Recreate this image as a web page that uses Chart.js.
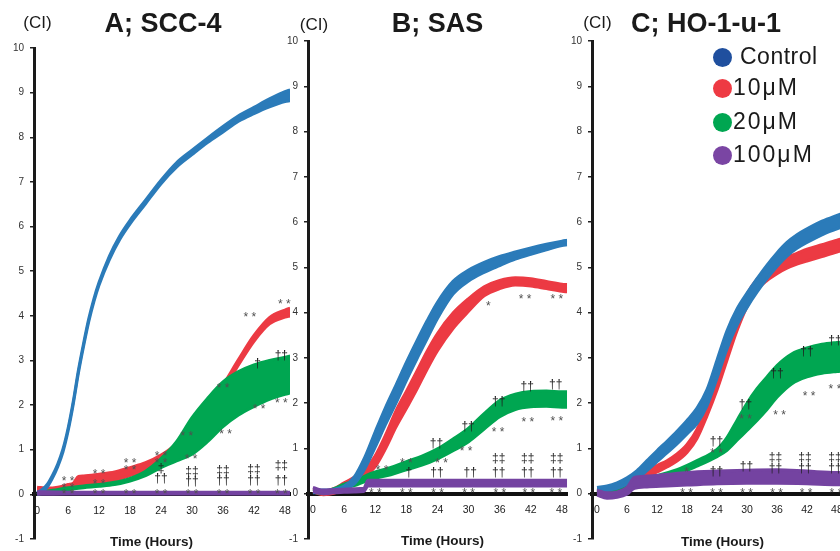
<!DOCTYPE html>
<html><head><meta charset="utf-8">
<script src="https://cdn.jsdelivr.net/npm/chart.js@4.4.1/dist/chart.umd.min.js"></script>
<style>
html,body{margin:0;padding:0;width:840px;height:551px;overflow:hidden;background:#fff;position:relative;}
canvas{position:absolute;top:0;}
.t{position:absolute;white-space:nowrap;line-height:1;font-family:"Liberation Sans",Arial,Helvetica,sans-serif;color:#1a1a1a;}
.dot{position:absolute;width:19px;height:19px;border-radius:50%;}
</style></head><body>
<canvas id="cA"></canvas><canvas id="cB"></canvas><canvas id="cC"></canvas>
<script>
// ---------- data (time in hours, cell index) ----------
const hourTicks = [0,6,12,18,24,30,36,42,48];
const ciTicks = [-1,0,1,2,3,4,5,6,7,8,9,10];
const panelTitles = ['A; SCC-4','B; SAS','C; HO-1-u-1'];
const legendLabels = ['Control','10\u03bcM','20\u03bcM','100\u03bcM'];

// each band: [hour, lower CI, upper CI]
const ctrlA = [[0,0.0,0.04],[1,0.05,0.11],[2,0.17,0.23],[3,0.37,0.43],[4,0.62,0.68],[5,0.95,1.01],[6,1.42,1.48],[7,2.02,2.08],[8,2.72,2.78],[9,3.32,3.38],[10,3.87,3.93],[11,4.32,4.38],[12,4.69,4.75],[14,5.26,5.34],[16,5.71,5.79],[18,6.06,6.14],[21,6.51,6.59],[24,6.96,7.04],[27,7.33,7.43],[30,7.61,7.71],[33,7.88,7.98],[36,8.12,8.24],[39,8.36,8.48],[42,8.53,8.67],[45,8.68,8.86],[48,8.8,9.02],[49,8.82,9.06]];
const c10A = [[0,0.05,0.16],[2,0.04,0.14],[4,0.06,0.16],[6,0.1,0.22],[7,0.13,0.25],[8,0.22,0.4],[9,0.22,0.41],[12,0.24,0.45],[15,0.31,0.5],[18,0.42,0.6],[21,0.53,0.71],[24,0.72,0.88],[27,1.0,1.14],[30,1.42,1.55],[33,1.83,1.95],[36,2.33,2.45],[39,2.9,3.02],[42,3.43,3.56],[45,3.82,3.96],[48,3.97,4.13],[49,4.0,4.17]];
const c20A = [[0,0.0,0.04],[3,0.05,0.09],[6,0.11,0.15],[9,0.15,0.19],[12,0.18,0.22],[15,0.22,0.27],[18,0.3,0.36],[21,0.42,0.52],[24,0.6,0.8],[27,0.75,1.18],[30,0.9,1.72],[33,1.18,2.15],[36,1.52,2.52],[39,1.78,2.75],[42,1.97,2.9],[45,2.13,3.0],[48,2.24,3.07],[49,2.27,3.1]];
const c100A = [[0,0.0,0.06],[6,0.01,0.05],[12,0.01,0.05],[24,0.01,0.05],[36,0.01,0.05],[49,0.01,0.05]];

const ctrlB = [[0,0.02,0.08],[2,0.02,0.08],[4,0.04,0.1],[6,0.09,0.17],[8,0.22,0.38],[10,0.55,0.81],[12,1.03,1.37],[14,1.53,1.91],[16,2.0,2.4],[18,2.5,2.9],[20,2.97,3.37],[22,3.42,3.82],[24,3.87,4.23],[27,4.41,4.69],[30,4.7,4.94],[33,4.89,5.11],[36,5.04,5.24],[39,5.18,5.34],[42,5.29,5.43],[45,5.39,5.51],[48,5.48,5.58],[49,5.5,5.6]];
const c10B = [[0,0.04,0.12],[2,-0.02,0.06],[4,0.01,0.11],[6,0.12,0.24],[8,0.23,0.37],[10,0.37,0.53],[12,0.6,0.84],[14,1.0,1.3],[16,1.47,1.83],[18,1.88,2.26],[20,2.3,2.7],[22,2.75,3.15],[24,3.16,3.54],[27,3.65,3.99],[30,4.03,4.31],[33,4.37,4.57],[36,4.53,4.71],[39,4.61,4.77],[42,4.59,4.75],[45,4.53,4.69],[48,4.47,4.63],[49,4.46,4.62]];
const c20B = [[0,0.04,0.1],[2,0.0,0.05],[4,0.05,0.11],[6,0.13,0.21],[8,0.18,0.28],[10,0.27,0.39],[12,0.34,0.48],[15,0.42,0.58],[18,0.53,0.71],[21,0.63,0.83],[24,0.77,0.99],[27,0.95,1.21],[30,1.15,1.45],[33,1.43,1.77],[36,1.7,2.06],[39,1.86,2.2],[42,1.92,2.26],[45,1.93,2.27],[48,1.91,2.25],[49,1.91,2.25]];
const c100B = [[0,0.05,0.14],[1,0.02,0.1],[2,0.0,0.08],[4,0.02,0.09],[6,0.03,0.1],[8,0.04,0.11],[9.8,0.05,0.12],[10.6,0.17,0.3],[12,0.17,0.3],[24,0.17,0.3],[36,0.17,0.3],[49,0.17,0.3]];

const ctrlC = [[0,0.04,0.14],[2,0.07,0.17],[4,0.12,0.24],[6,0.21,0.35],[8,0.33,0.51],[10,0.51,0.73],[12,0.71,0.95],[14,0.9,1.16],[16,1.1,1.38],[18,1.32,1.62],[20,1.55,1.89],[22,1.94,2.3],[24,2.55,2.95],[26,3.2,3.6],[28,3.72,4.08],[30,4.11,4.43],[32,4.45,4.75],[34,4.75,5.05],[36,5.02,5.32],[38,5.25,5.55],[40,5.42,5.72],[42,5.55,5.85],[45,5.72,6.02],[48,5.85,6.15],[49,5.89,6.19]];
const c10C = [[0,0.0,0.08],[2,0.02,0.1],[4,0.06,0.16],[6,0.15,0.25],[8,0.25,0.37],[10,0.37,0.49],[12,0.48,0.62],[14,0.59,0.73],[16,0.72,0.88],[18,0.91,1.09],[20,1.22,1.42],[22,1.72,1.96],[24,2.29,2.57],[26,2.95,3.25],[28,3.6,3.9],[30,4.13,4.41],[32,4.5,4.74],[34,4.71,4.95],[36,4.86,5.1],[38,4.98,5.22],[40,5.07,5.31],[42,5.14,5.4],[45,5.24,5.5],[48,5.34,5.6],[49,5.37,5.63]];
const c20C = [[0,0.0,0.06],[4,0.09,0.15],[8,0.23,0.31],[12,0.32,0.4],[16,0.43,0.53],[20,0.61,0.73],[24,0.82,0.98],[26,0.96,1.24],[28,1.18,1.62],[30,1.4,2.0],[32,1.62,2.32],[34,1.86,2.58],[36,2.13,2.83],[39,2.43,3.09],[42,2.58,3.22],[45,2.66,3.3],[48,2.7,3.34],[49,2.71,3.35]];
const c100C = [[0,-0.03,0.08],[2,-0.1,0.02],[4,-0.08,0.04],[6,-0.01,0.14],[7.5,0.12,0.36],[10,0.15,0.39],[14,0.17,0.43],[18,0.19,0.47],[24,0.22,0.5],[30,0.23,0.52],[36,0.23,0.53],[42,0.22,0.5],[48,0.2,0.47],[49,0.2,0.47]];

// significance marks: [hour, CI, text]
const marksA = [[6,0.36,'**'],[6,0.2,'**'],[6,0.07,'**'],[12,0.5,'**'],[12,0.28,'**'],[12,0.07,'**'],[18,0.76,'**'],[18,0.6,'**'],[18,0.07,'**'],[24,0.91,'**'],[24,0.76,'**'],[24,0.58,'\u2021'],[24,0.36,'\u2020\u2020'],[24,0.07,'**'],[29,1.36,'**'],[29.8,0.85,'**'],[30,0.51,'\u2021\u2021'],[30,0.29,'\u2020\u2020'],[30,0.07,'**'],[36,2.43,'**'],[36.5,1.4,'**'],[36,0.53,'\u2021\u2021'],[36,0.31,'\u2020\u2020'],[36,0.07,'**'],[41.2,4.03,'**'],[42.7,2.92,'\u2020'],[43,1.96,'**'],[42,0.56,'\u2021\u2021'],[42,0.31,'\u2020\u2020'],[42,0.07,'**'],[47.9,4.32,'**'],[47.3,3.1,'\u2020\u2020'],[47.3,2.1,'**'],[47.3,0.65,'\u2021\u2021'],[47.3,0.31,'\u2020\u2020'],[47.3,0.07,'**']];
const marksB = [[12,0.07,'**'],[18,0.07,'**'],[24,0.07,'**'],[30,0.07,'**'],[36,0.07,'**'],[41.6,0.07,'**'],[46.8,0.07,'**'],[13.3,0.57,'**'],[18,0.72,'**'],[18.5,0.46,'\u2020'],[23.8,1.1,'\u2020\u2020'],[24.8,0.72,'**'],[23.9,0.46,'\u2020\u2020'],[29.9,1.49,'\u2020\u2020'],[29.5,1.0,'**'],[30.3,0.46,'\u2020\u2020'],[35.8,2.03,'\u2020\u2020'],[35.7,1.42,'**'],[35.8,0.77,'\u2021\u2021'],[35.8,0.46,'\u2020\u2020'],[41.3,2.36,'\u2020\u2020'],[41.4,1.64,'**'],[41.4,0.77,'\u2021\u2021'],[41.4,0.46,'\u2020\u2020'],[46.8,2.4,'\u2020\u2020'],[47,1.66,'**'],[47,0.77,'\u2021\u2021'],[47,0.46,'\u2020\u2020'],[33.8,4.2,'*'],[40.9,4.35,'**'],[47,4.35,'**']];
const marksC = [[17.9,0.07,'**'],[23.9,0.07,'**'],[29.9,0.07,'**'],[35.9,0.07,'**'],[41.8,0.07,'**'],[47.8,0.07,'**'],[17.9,0.53,'*'],[23.9,1.16,'\u2020\u2020'],[23.9,0.94,'**'],[23.9,0.48,'\u2020\u2020'],[29.7,1.96,'\u2020\u2020'],[29.7,1.7,'**'],[29.9,0.59,'\u2020\u2020'],[36,2.66,'\u2020\u2020'],[36.5,1.8,'**'],[35.7,0.79,'\u2021\u2021'],[35.7,0.55,'\u2020\u2020'],[42,3.14,'\u2020\u2020'],[42.4,2.22,'**'],[41.6,0.79,'\u2021\u2021'],[41.6,0.55,'\u2020\u2020'],[47.6,3.38,'\u2020\u2020'],[47.6,2.37,'**'],[47.6,0.79,'\u2021\u2021'],[47.6,0.55,'\u2020\u2020']];

// ---------- styling ----------
const FONT = '"Liberation Sans", Arial, Helvetica, sans-serif';
const COL = {ctrl:'#2b7bb9', c10:'#ec3a43', c20:'#00a651', c100:'#7443a1'};
const MID = {c10:'#d46b6e', c100:'#a48cc8'};
const DOT = ['#1f4f9e','#ee3a43','#00a651','#7a45a3'];

function band(series, color, mid){
  const base = {pointRadius:0, borderWidth:3, borderColor:color, backgroundColor:color, cubicInterpolationMode:'monotone'};
  const out = [
    Object.assign({}, base, {data: series.map(p=>({x:p[0], y:p[2]})), fill:false}),
    Object.assign({}, base, {data: series.map(p=>({x:p[0], y:p[1]})), fill:'-1'})
  ];
  if (mid) out.push({pointRadius:0, borderWidth:2, borderColor:mid, fill:false, cubicInterpolationMode:'monotone',
    data: series.map(p=>({x:p[0], y:(p[1]+p[2])/2}))});
  return out;
}

const marksPlugin = {
  id:'marks',
  afterDatasetsDraw(chart, args, opts){
    const {ctx} = chart; const xs = chart.scales.x, ys = chart.scales.y;
    ctx.save();
    ctx.textAlign = 'center'; ctx.textBaseline = 'middle';
    for (const [t, v, s] of opts.items){
      const px = xs.getPixelForValue(t), py = ys.getPixelForValue(v);
      const star = s.indexOf('*') >= 0;
      ctx.font = '12px ' + FONT;
      ctx.fillStyle = star ? '#505050' : '#1e1e1e';
      ctx.fillText(star ? s.split('').join(' ') : s, px, py + (star ? 3 : 0));
    }
    ctx.restore();
  }
};

const panels = [
  {id:'cA', left:0,   width:301, top:48, bottom:540, xmin:-0.6,  xmax:49, s:[c100A, ctrlA, c20A, c10A], marks:marksA},
  {id:'cB', left:274, width:304, top:41, bottom:544, xmin:-0.96, xmax:49, s:[c100B, ctrlB, c20B, c10B], marks:marksB},
  {id:'cC', left:558, width:295, top:41, bottom:542, xmin:-1.0,  xmax:49, s:[c100C, ctrlC, c20C, c10C], marks:marksC}
];

panels.forEach(p => {
  const cv = document.getElementById(p.id);
  cv.width = p.width; cv.height = 551;
  cv.style.left = p.left + 'px'; cv.style.width = p.width + 'px'; cv.style.height = '551px';
  const datasets = [].concat(
    band(p.s[0], COL.c100, MID.c100),
    band(p.s[1], COL.ctrl),
    band(p.s[2], COL.c20),
    band(p.s[3], COL.c10, MID.c10)
  );
  new Chart(cv, {
    type:'line',
    data:{datasets},
    plugins:[marksPlugin],
    options:{
      responsive:false, animation:false, devicePixelRatio:1,
      layout:{padding:{left:4, right:10, top:p.top, bottom:551 - p.bottom}},
      plugins:{legend:{display:false}, tooltip:{enabled:false}, marks:{items:p.marks}},
      elements:{line:{borderJoinStyle:'round', borderCapStyle:'butt'}},
      scales:{
        x:{type:'linear', min:p.xmin, max:p.xmax, position:{y:0},
           afterBuildTicks: sc => { sc.ticks = hourTicks.map(v=>({value:v})); },
           grid:{display:false, drawTicks:false},
           border:{display:true, width:4, color:'#111'},
           ticks:{padding:10, color:'#222', font:{family:FONT, size:10.5}, maxRotation:0, autoSkip:false}},
        y:{type:'linear', min:-1, max:10, position:'left',
           afterFit: sc => { sc.width = 30; },
           afterBuildTicks: sc => { sc.ticks = ciTicks.map(v=>({value:v})); },
           grid:{display:true, drawOnChartArea:false, drawTicks:true, tickLength:4, color:'#222', lineWidth:1.5},
           border:{display:true, width:3, color:'#1a1a1a'},
           ticks:{padding:6, color:'#333', font:{family:FONT, size:10}}}
      }
    }
  });
});

// ---------- text ----------
function addText(txt, x, baseline, size, weight, align){
  const d = document.createElement('div');
  d.className = 't'; d.textContent = txt;
  d.style.fontSize = size + 'px'; d.style.fontWeight = weight;
  d.style.top = (baseline - 0.8465 * size) + 'px';
  d.style.left = x + 'px';
  if (align === 'center') d.style.transform = 'translateX(-50%)';
  document.body.appendChild(d);
  return d;
}
addText(panelTitles[0], 163, 33, 27, 'bold', 'center');
addText(panelTitles[1], 437.5, 33, 27, 'bold', 'center');
addText(panelTitles[2], 706, 33, 27, 'bold', 'center');
addText('(CI)', 37.5, 28.5, 17, 'normal', 'center');
addText('(CI)', 314, 30, 17, 'normal', 'center');
addText('(CI)', 597.5, 28.5, 17, 'normal', 'center');
addText('Time (Hours)', 151.5, 546, 13.5, 'bold', 'center');
addText('Time (Hours)', 442.5, 545, 13.5, 'bold', 'center');
addText('Time (Hours)', 722.5, 546, 13.5, 'bold', 'center');

const legY = [57, 88, 122, 155];
const legX = [740, 733, 733, 733];
legendLabels.forEach((lab, i) => {
  const dot = document.createElement('div');
  dot.className = 'dot'; dot.style.background = DOT[i];
  dot.style.left = (722.5 - 9.5) + 'px'; dot.style.top = (legY[i] - 9.5) + 'px';
  document.body.appendChild(dot);
  const d = addText(lab, legX[i], legY[i] + 7.5, 23, 'normal', 'left');
  d.style.letterSpacing = i === 0 ? '0.5px' : '2px';
});
</script>
</body></html>
